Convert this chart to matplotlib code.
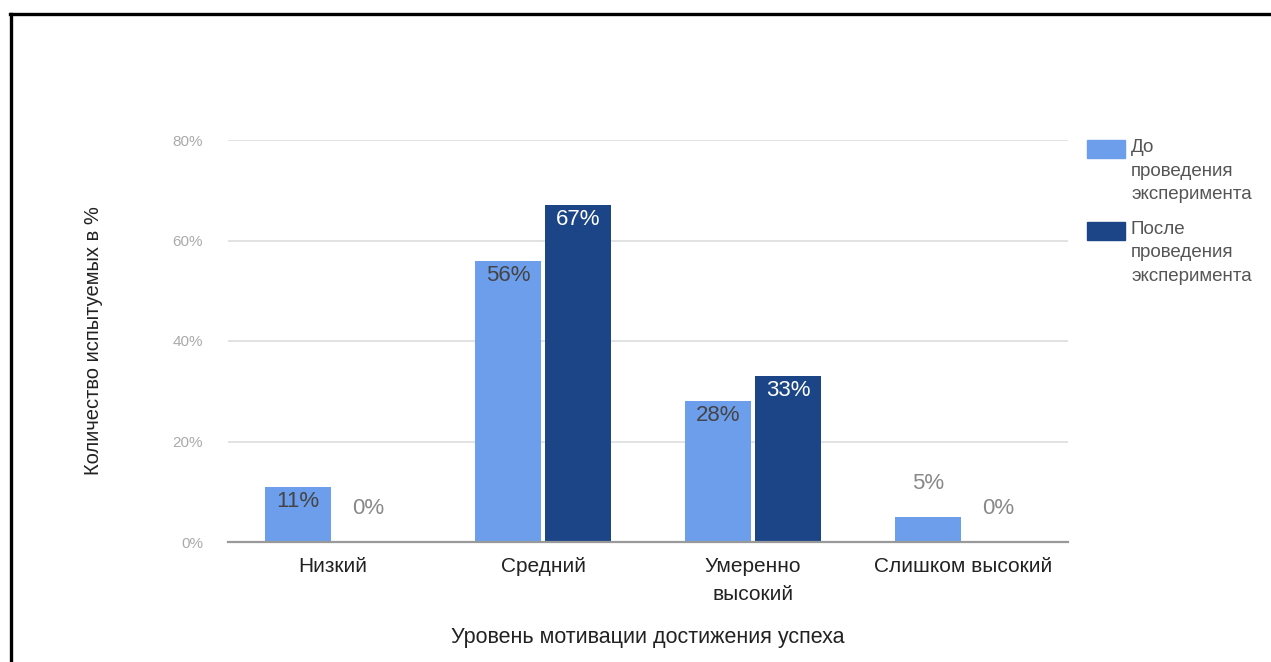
#!/usr/bin/env python3
import matplotlib
matplotlib.use('Agg')
import matplotlib.pyplot as plt
import numpy as np
from matplotlib.lines import Line2D
from matplotlib.patches import Rectangle

plt.rcParams['font.family'] = ['Liberation Sans', 'DejaVu Sans']

categories = ['Низкий', 'Средний', 'Умеренно\nвысокий', 'Слишком высокий']
series_names = ['До\nпроведения\nэксперимента', 'После\nпроведения\nэксперимента']
before = [11, 56, 28, 5]
after = [0, 67, 33, 0]
y_ticks = [0, 20, 40, 60, 80]

LIGHT = '#6d9eeb'
DARK = '#1c4587'

W, H = 1271, 662
fig = plt.figure(figsize=(W / 100, H / 100), dpi=100)
ax = fig.add_axes([228 / W, 120 / H, 840 / W, 402 / H])

x = np.arange(len(categories))
width = 0.315
gap = 0.01
bars1 = ax.bar(x - width / 2 - gap, before, width, color=LIGHT, zorder=3)
bars2 = ax.bar(x + width / 2 + gap, after, width, color=DARK, zorder=3)

ax.set_xlim(-0.5, len(categories) - 0.5)
ax.set_ylim(0, 80)
ax.set_yticks(y_ticks)
ax.set_yticklabels([f'{t}%' for t in y_ticks], color='#aaaaaa', fontsize=11)
ax.set_xticks(x)
ax.set_xticklabels(categories, fontsize=15, color='#222222', linespacing=1.55)
ax.tick_params(axis='both', length=0)
ax.tick_params(axis='y', pad=18)
ax.tick_params(axis='x', pad=11)
ax.grid(axis='y', color='#dddddd', linewidth=1.2, zorder=0)
for side in ['top', 'right', 'left']:
    ax.spines[side].set_visible(False)
ax.spines['bottom'].set_color('#999999')
ax.spines['bottom'].set_linewidth(1.6)
ax.spines['bottom'].set_zorder(4)

ax.set_xlabel('Уровень мотивации достижения успеха', fontsize=15.5,
              color='#222222', labelpad=17)
ax.set_ylabel('Количество испытуемых в %', fontsize=14.5,
              color='#222222', labelpad=50)

# value labels: inside the bar when it is tall enough, above it otherwise
for bars, vals, inner in [(bars1, before, '#444444'), (bars2, after, 'white')]:
    for bar, v in zip(bars, vals):
        cx = bar.get_x() + bar.get_width() / 2
        if v >= 10:
            ax.annotate(f'{v}%', (cx, v), xytext=(0, -3), textcoords='offset points',
                        ha='center', va='top', fontsize=16, color=inner, zorder=5)
        else:
            ax.annotate(f'{v}%', (cx, v), xytext=(0, 24), textcoords='offset points',
                        ha='center', va='center', fontsize=16, color='#888888', zorder=5)

# legend on the right
for i, (name, col) in enumerate(zip(series_names, [LIGHT, DARK])):
    top = 140 + i * 82
    fig.patches.append(Rectangle((1087 / W, 1 - (top + 18) / H), 38 / W, 18 / H,
                                 transform=fig.transFigure, color=col))
    fig.text(1131 / W, 1 - (top - 1) / H, name, fontsize=13.5, color='#555555',
             va='top', ha='left', linespacing=1.5)

# frame lines on the left and top
fig.add_artist(Line2D([10.5 / W, 10.5 / W], [0, 1 - 14 / H], transform=fig.transFigure,
                      color='black', linewidth=2.4))
fig.add_artist(Line2D([9.5 / W, 1], [1 - 14 / H, 1 - 14 / H], transform=fig.transFigure,
                      color='black', linewidth=2.4))

fig.savefig('out.png', dpi=100, facecolor='white')
